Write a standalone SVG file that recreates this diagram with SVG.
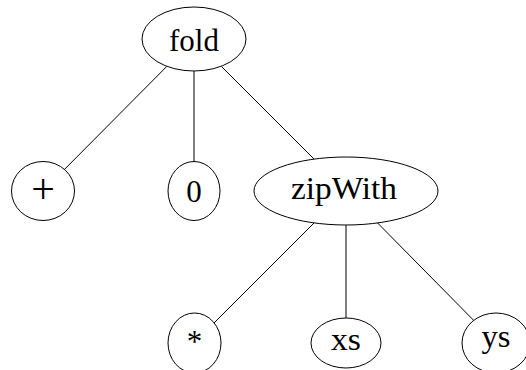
<svg xmlns="http://www.w3.org/2000/svg" width="526" height="370" viewBox="0 0 526 370">
  <style>
    .node ellipse { fill: #fff; stroke: #000; stroke-width: 1; }
    .node text { font-family: "Liberation Serif", "DejaVu Serif", serif; font-size: 31px; fill: #000; text-anchor: middle; }
    #edges line { stroke: #000; stroke-width: 1; }
  </style>
  <rect width="526" height="370" fill="#fff"/>

  <!-- tree edges, parent centre to child centre, clipped at the outlines -->
  <g id="edges">
    <line x1="166.9" y1="66.3" x2="64.5" y2="169.4"/>
    <line x1="194" y1="71" x2="194" y2="161.5"/>
    <line x1="221.3" y1="66.3" x2="314.1" y2="159.1"/>
    <line x1="314.1" y1="222.9" x2="213.9" y2="323.1"/>
    <line x1="346" y1="225" x2="346" y2="318"/>
    <line x1="377.5" y1="222.9" x2="473.7" y2="320.4"/>
  </g>

  <g id="fold" class="node">
    <ellipse cx="194" cy="39" rx="52" ry="32"/>
    <text x="194" y="50.5">fold</text>
  </g>
  <g id="plus" class="node">
    <ellipse cx="43" cy="191" rx="31.5" ry="29.5"/>
    <text x="43" y="203" style="font-size:42px">+</text>
  </g>
  <g id="zero" class="node">
    <ellipse cx="194" cy="191" rx="26" ry="29.5"/>
    <text x="194" y="202">0</text>
  </g>
  <g id="zipWith" class="node">
    <ellipse cx="346" cy="191" rx="92" ry="34"/>
    <text x="344" y="198.5" textLength="106" lengthAdjust="spacingAndGlyphs">zipWith</text>
  </g>
  <g id="times" class="node">
    <ellipse cx="194.5" cy="343" rx="26.5" ry="30"/>
    <text x="194.5" y="352">*</text>
  </g>
  <g id="xs" class="node">
    <ellipse cx="346" cy="343" rx="35" ry="25"/>
    <text x="346" y="350" textLength="30" lengthAdjust="spacingAndGlyphs">xs</text>
  </g>
  <g id="ys" class="node">
    <ellipse cx="496" cy="343" rx="34" ry="30"/>
    <text x="496" y="347" textLength="29" lengthAdjust="spacingAndGlyphs">ys</text>
  </g>
</svg>
